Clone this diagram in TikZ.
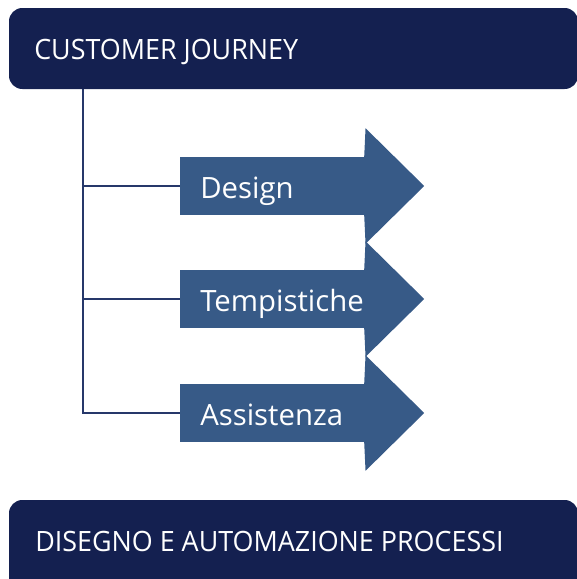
\documentclass[tikz,border=0pt]{standalone}
\usepackage{fontspec}
\setmainfont{Open Sans}
\definecolor{navy}{HTML}{142050}
\definecolor{steel}{HTML}{375A87}
\definecolor{trunk}{HTML}{26386A}
\tikzset{
    bar/.style={fill=navy, rounded corners=10, text=white},
    bartext/.style={anchor=base west, inner sep=0pt, text=white, font=\fontsize{21}{25}\selectfont\addfontfeature{FakeStretch=0.96}},
    stage/.style={fill=steel, text=white, anchor=west, minimum width=138.75pt, minimum height=43.5pt,
        inner sep=0pt, text width=138.75pt, text height=18pt, text depth=0pt, align=left, font=\fontsize{22}{26}\selectfont},
}
\begin{document}
\begin{tikzpicture}[x=0.75pt, y=-0.75pt]
    \useasboundingbox (0,0) rectangle (577,579);

    % title bars
    \fill[bar] (9,8) rectangle (578,89);
    \node[bartext] (journey) at (34,59) {CUSTOMER JOURNEY};
    \fill[bar] (9,500) rectangle (578,600);
    \node[bartext] (processi) at (35,551) {DISEGNO E AUTOMAZIONE PROCESSI};

        % arrows
        \node[stage] (design) at (180,186) {\hspace{15pt}Design};
        \node[stage] (tempi) at (180,299) {\hspace{15pt}Tempistiche};
        \node[stage] (assist) at (180,413) {\hspace{15pt}Assistenza};
        \foreach \n in {design,tempi,assist}{
            \fill[steel] ([yshift=21.4pt]\n.north east) -- ([xshift=44pt]\n.east) -- ([yshift=-21.4pt]\n.south east)
                -- ([xshift=-1pt]\n.south east) -- ([xshift=-1pt]\n.north east) -- cycle;
        }

    % trunk
    \coordinate (top) at (83,89);
    \draw[trunk, line width=0.8pt] (top) |- (assist.west);
    \draw[trunk, line width=0.8pt] (top |- design.west) -- (design.west);
    \draw[trunk, line width=0.8pt] (top |- tempi.west) -- (tempi.west);
\end{tikzpicture}
\end{document}
